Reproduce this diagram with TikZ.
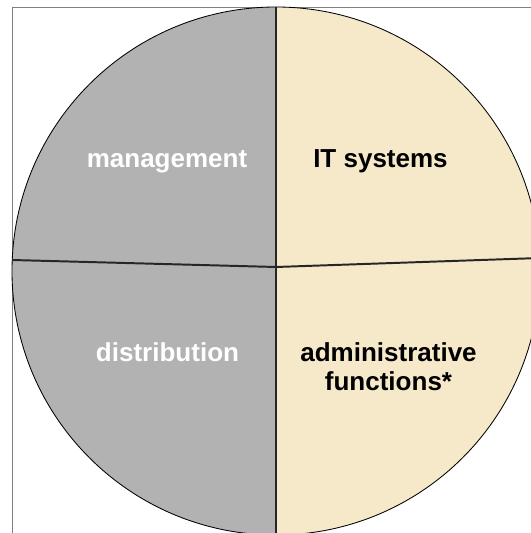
\documentclass[tikz,border=0pt]{standalone}
\usepackage{fontspec}
\setmainfont{Liberation Sans}
\usepackage{xcolor}
\usetikzlibrary{calc}
\definecolor{piegray}{RGB}{178,178,178}
\definecolor{piebeige}{RGB}{246,233,201}
\definecolor{framegray}{RGB}{128,128,128}
\newcommand{\pxunit}{0.025cm}
\newcommand{\pierad}{264}
\tikzset{
  sector text/.style={font=\bfseries\fontsize{18.5}{21.3}\selectfont, inner sep=0pt},
  divider/.style={line width=1.4pt, black!85},
}

\begin{document}
\begin{tikzpicture}[x=\pxunit,y=\pxunit]
		\useasboundingbox (0,0) rectangle (531,533);
		\clip (0,0) rectangle (531,533);
		
		\coordinate (O) at (276,262);
		\coordinate (T) at ($(O)+(0,\pierad)$);
		\coordinate (B) at ($(O)+(0,-\pierad)$);
		\coordinate (M) at (276,266);
		\coordinate (L) at (12.2,273);
		\coordinate (R) at (539.8,275);
		
		% frame
		\draw[framegray, line width=0.9pt] (12.5,-5) |- (545,525.5);
		
		% the two halves
		\fill[piegray] (T) arc[start angle=90, end angle=270, radius=\pierad] -- cycle;
		\fill[piebeige] (B) arc[start angle=-90, end angle=90, radius=\pierad] -- cycle;
		\draw[black, line width=0.6pt] (O) circle[radius=\pierad];
		
		% dividers
		\draw[divider] (T) -- (B);
		\draw[divider] (L) -- (M) -- (R);
		
		\node[sector text, text=white, anchor=base] (mgmt) at (167,365) {management};
		\node[sector text, anchor=base] (it) at (380.5,365) {IT systems};
		\node[sector text, text=white, anchor=base] (dist) at (167.5,171) {distribution};
		\node[sector text, align=center] (admin) at (388.5,166.3) {administrative\\functions*};
		
	\end{tikzpicture}
\end{document}
